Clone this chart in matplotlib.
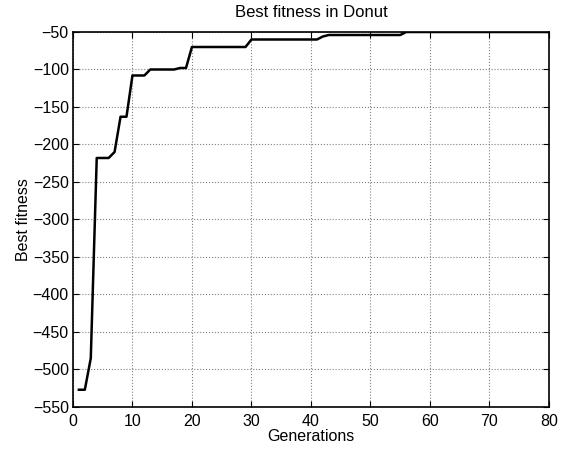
import numpy as np
import matplotlib.pyplot as plt

# Лучшая приспособленность по поколениям
generations = np.arange(1, 81)
best = ([-527, -527, -485, -218, -218, -218, -210, -163, -163, -108,
         -108, -108, -100, -100, -100, -100, -100, -98, -98, -70]
        + [-70] * 9
        + [-60] * 12
        + [-56]
        + [-54] * 13
        + [-50] * 25)

plt.rcParams['font.family'] = ['Liberation Sans', 'DejaVu Sans']
plt.rcParams['font.size'] = 11.5

fig = plt.figure(figsize=(5.61, 4.5), dpi=100)
ax = fig.add_axes([0.130, 0.0956, 0.8486, 0.8333])
ax.plot(generations, best, color='black', linewidth=1.8)

ax.set_xlim(0, 80)
ax.set_ylim(-550, -50)
ax.set_xticks(np.arange(0, 81, 10))
ax.set_yticks(np.arange(-550, -49, 50))
ax.tick_params(direction='in', top=True, right=True, length=4, pad=3)
ax.tick_params(axis='x', pad=5)
ax.grid(True, linestyle=':', color='gray', linewidth=0.8)
for s in ax.spines.values():
    s.set_linewidth(1.2)

ax.set_title("Best fitness in Donut", fontsize=12, pad=11)
ax.set_xlabel("Generations", labelpad=0)
ax.set_ylabel("Best fitness", labelpad=1)

fig.savefig('out.png', dpi=100)
